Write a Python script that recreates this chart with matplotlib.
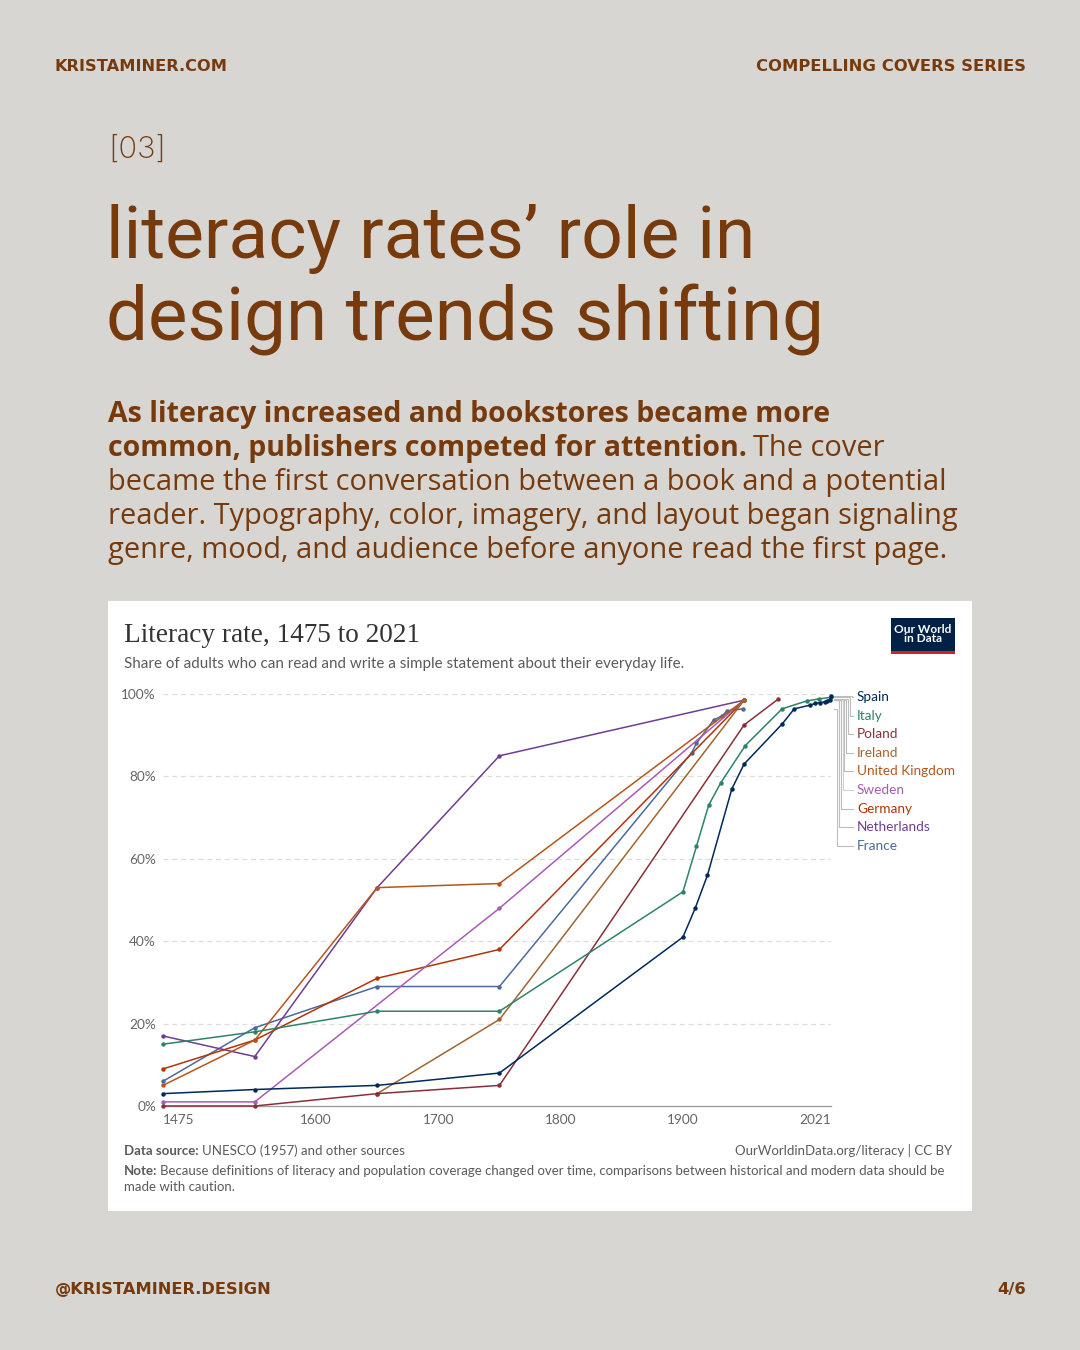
import matplotlib
matplotlib.use("Agg")
import matplotlib.pyplot as plt
from matplotlib.transforms import Affine2D
from matplotlib.patches import Rectangle
from matplotlib.lines import Line2D

# ---- data ----
countries = ["Spain", "Italy", "Poland", "Ireland", "United Kingdom",
             "Sweden", "Germany", "Netherlands", "France"]
colors = ["#00295B", "#2C8465", "#883039", "#A0652F", "#B5561B",
          "#A85BB5", "#B13507", "#6D3E91", "#4C6A9C"]

spain_years = [1475, 1550, 1650, 1750, 1900, 1910, 1920, 1940, 1950, 1981,
               1991, 2004, 2008, 2012, 2016, 2018, 2020, 2021]
spain_values = [3, 4, 5, 8, 41, 48, 56, 77, 83, 92.7, 96.4, 97.3, 97.7,
                97.9, 98.1, 98.4, 98.6, 99.6]
italy_years = [1475, 1550, 1650, 1750, 1900, 1911, 1921, 1931, 1951, 1981,
               2001, 2011, 2021]
italy_values = [15, 18, 23, 23, 52, 63, 73, 78.5, 87.5, 96.4, 98.3, 98.8, 99.2]
poland_years = [1475, 1550, 1650, 1750, 1950, 1978]
poland_values = [0, 0, 3, 5, 92.5, 98.8]
ireland_years = [1650, 1750, 1950]
ireland_values = [3, 21, 98.5]
uk_years = [1475, 1550, 1650, 1750, 1950]
uk_values = [5, 16, 53, 54, 98.5]
sweden_years = [1475, 1550, 1750, 1950]
sweden_values = [1, 1, 48, 98.5]
germany_years = [1475, 1550, 1650, 1750, 1950]
germany_values = [9, 16, 31, 38, 98.5]
netherlands_years = [1475, 1550, 1650, 1750, 1950]
netherlands_values = [17, 12, 53, 85, 98.5]
france_years = [1475, 1550, 1650, 1750, 1907, 1911, 1925, 1932, 1936, 1949]
france_values = [6, 19, 29, 29, 85.7, 88, 93.7, 94.7, 95.9, 96.4]

all_years = [spain_years, italy_years, poland_years, ireland_years, uk_years,
             sweden_years, germany_years, netherlands_years, france_years]
all_values = [spain_values, italy_values, poland_values, ireland_values,
              uk_values, sweden_values, germany_values, netherlands_values,
              france_values]

x_ticks = [1475, 1600, 1700, 1800, 1900, 2021]
y_ticks = [0, 20, 40, 60, 80, 100]

W, H = 1080, 1350
BG = "#D7D6D3"
BROWN = "#763A0C"
GREY = "#5B5B5B"

fig = plt.figure(figsize=(W / 100, H / 100), dpi=100)
fig.patch.set_facecolor(BG)
renderer = fig.canvas.get_renderer()

# pixel coords, origin top-left
pix = Affine2D().scale(1 / W, -1 / H).translate(0, 1) + fig.transFigure


def put(x, y, s, width=None, size=10, **kw):
    t = fig.text(x, y, s, transform=pix, fontsize=size, **kw)
    if width:
        w = t.get_window_extent(renderer).width
        t.set_fontsize(size * width / w)
    return t


# ---- header / footer of the slide ----
put(55, 71, "KRISTAMINER.COM", width=173, color=BROWN, weight="bold",
    family="DejaVu Sans", va="baseline")
put(1026, 71, "COMPELLING COVERS SERIES", width=269, color=BROWN,
    weight="bold", family="DejaVu Sans", va="baseline", ha="right")
put(55, 1294, "@KRISTAMINER.DESIGN", width=216, color=BROWN, weight="bold",
    family="DejaVu Sans", va="baseline")
put(1026, 1294, "4/6", width=29, color=BROWN, weight="bold",
    family="DejaVu Sans", va="baseline", ha="right")

put(108, 158, "[03]", width=58, color=BROWN, family="Inter",
    weight="light", va="baseline")

put(106, 258, "literacy rates\u2019 role in", width=650, color=BROWN,
    family="Roboto", va="baseline")
put(106, 340, "design trends shifting", width=720, color=BROWN,
    family="Roboto", va="baseline")

# paragraph: bold lead-in, then regular text
b1 = put(108, 422, "As literacy increased and bookstores became more",
         width=723, color=BROWN, family="Open Sans", weight="bold",
         va="baseline")
r4 = put(108, 524, "reader. Typography, color, imagery, and layout began signaling",
         width=847, color=BROWN, family="Open Sans", va="baseline")
bsize, rsize = b1.get_fontsize(), r4.get_fontsize()
b2 = put(108, 456, "common, publishers competed for attention.", size=bsize,
         color=BROWN, family="Open Sans", weight="bold", va="baseline")
bw = b2.get_window_extent(renderer).width
put(108 + bw + 6, 456, "The cover", size=rsize, color=BROWN,
    family="Open Sans", va="baseline")
put(108, 490, "became the first conversation between a book and a potential",
    size=rsize, color=BROWN, family="Open Sans", va="baseline")
put(108, 558, "genre, mood, and audience before anyone read the first page.",
    size=rsize, color=BROWN, family="Open Sans", va="baseline")

# ---- white chart card ----
fig.patches.append(Rectangle((108, 601), 864, 610, transform=pix,
                             facecolor="white", edgecolor="none", zorder=-5))

put(124, 642, "Literacy rate, 1475 to 2021", width=296, color="#333333",
    family="Liberation Serif", va="baseline")
put(124, 668, "Share of adults who can read and write a simple statement "
    "about their everyday life.", width=559, color=GREY,
    family="Lato", va="baseline")

# OWID logo
fig.patches.append(Rectangle((891, 618), 64, 36, transform=pix,
                             facecolor="#002147", edgecolor="none", zorder=1))
fig.patches.append(Rectangle((891, 651), 64, 3, transform=pix,
                             facecolor="#CE261E", edgecolor="none", zorder=2))
put(923, 634, "Our World\nin Data", size=8.6, color="white", family="Lato",
    weight="bold", ha="center", va="center", linespacing=0.85, zorder=3)

# ---- the plot ----
ax = fig.add_axes([163 / W, 1 - 1106 / H, 668 / W, 412 / H])
ax.set_zorder(2)
ax.patch.set_visible(False)
ax.set_xlim(1475, 2021)
ax.set_ylim(0, 100)
for side in ["top", "right", "left"]:
    ax.spines[side].set_visible(False)
ax.spines["bottom"].set_color("#A0A0A0")
ax.spines["bottom"].set_linewidth(1)

ax.set_yticks(y_ticks)
ax.set_yticklabels([f"{v}%" for v in y_ticks])
ax.set_xticks(x_ticks)
ax.set_xticklabels([str(v) for v in x_ticks])
ax.set_xticks([1900, 2021], minor=True)
ax.tick_params(axis="y", length=0, pad=5, labelsize=9.8, labelcolor="#666666")
ax.tick_params(axis="x", which="major", length=0, pad=6, labelsize=9.8,
               labelcolor="#666666")
ax.tick_params(axis="x", which="minor", length=4, color="#A0A0A0", width=1)
for lab in ax.get_xticklabels() + ax.get_yticklabels():
    lab.set_family("Lato")
xl = ax.get_xticklabels()
xl[0].set_ha("left")
xl[-1].set_ha("right")

for v in y_ticks[1:]:
    ax.axhline(v, color="#DDDDDD", lw=0.9, dashes=(4, 3), zorder=0)

# draw back to front so Spain ends on top
for i in reversed(range(len(countries))):
    ax.plot(all_years[i], all_values[i], color=colors[i], lw=1.1,
            marker="o", ms=2.2, clip_on=False, zorder=3 + (9 - i))

# ---- legend labels with connector lines ----
for i, name in enumerate(countries):
    ly = 697 + i * 18.6
    _, ey = ax.transData.transform((2021, all_values[i][-1]))
    ey = H - ey
    xi = 852 - 1.9 * i
    conn = "#D0D0D0" if name == "Sweden" else "#BDBDBD"
    fig.lines.append(Line2D([834, xi, xi, 853], [ey, ey, ly, ly],
                            transform=pix, color=conn, lw=0.8))
    put(857, ly, name, size=9.8, color=colors[i], family="Lato",
        va="center")

# ---- chart footer ----
fs = 9.55
t = put(124, 1155, "Data source:", size=fs, color=GREY, family="Lato",
        weight="bold", va="baseline")
tw = t.get_window_extent(renderer).width
put(124 + tw + 3, 1155, "UNESCO (1957) and other sources", size=fs,
    color=GREY, family="Lato", va="baseline")
put(952, 1155, "OurWorldinData.org/literacy | CC BY", size=fs,
    color=GREY, family="Lato", va="baseline", ha="right")
t = put(124, 1175, "Note:", size=fs, color=GREY, family="Lato",
        weight="bold", va="baseline")
tw = t.get_window_extent(renderer).width
put(124 + tw + 3, 1175, "Because definitions of literacy and population "
    "coverage changed over time, comparisons between historical and modern "
    "data should be", size=fs, color=GREY, family="Lato",
    va="baseline")
put(124, 1191, "made with caution.", size=fs, color=GREY,
    family="Lato", va="baseline")

fig.savefig("out.png", dpi=100, facecolor=fig.get_facecolor())
